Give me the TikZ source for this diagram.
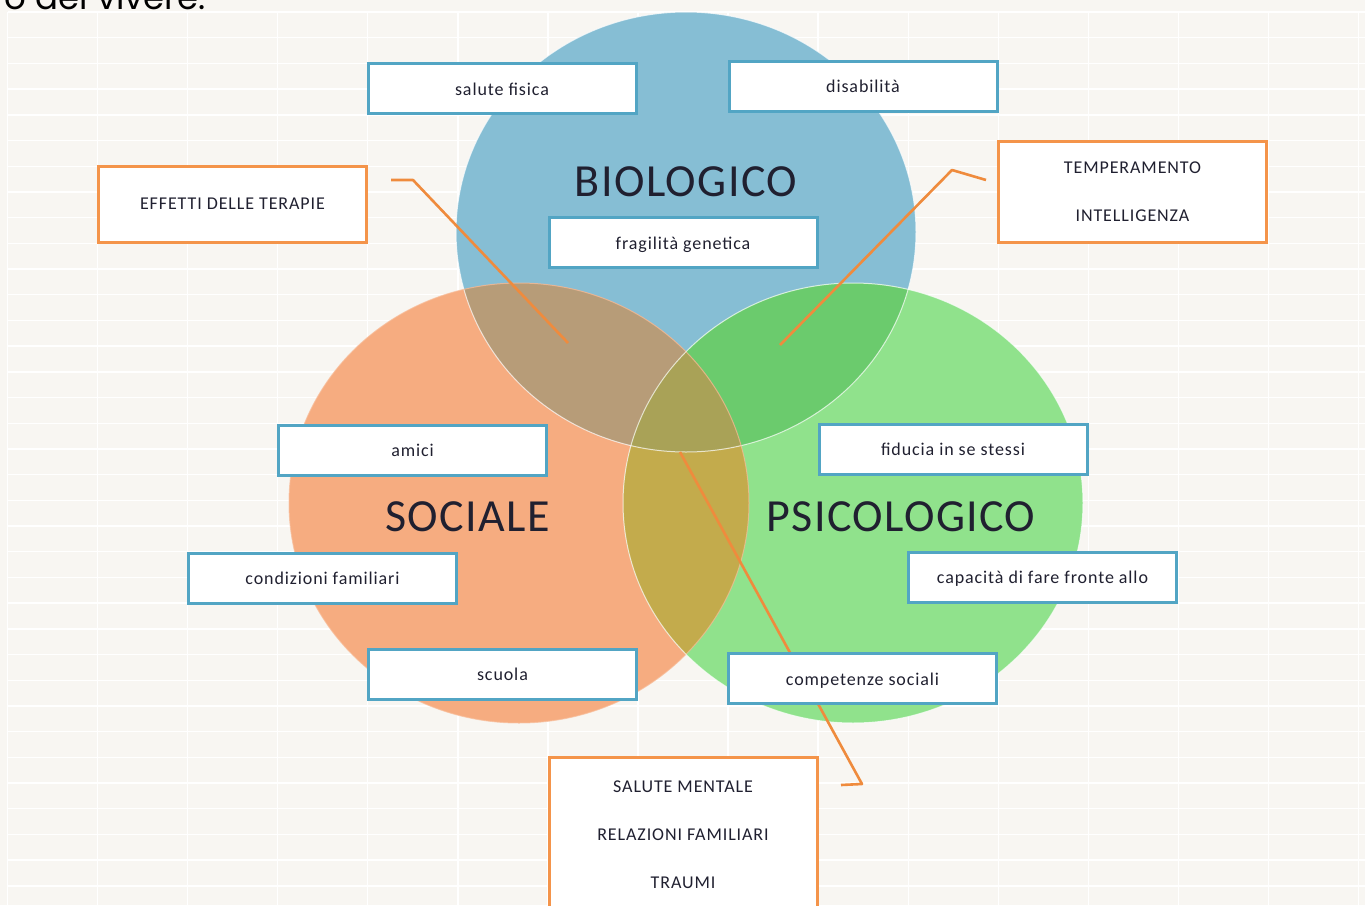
\documentclass[tikz,border=0pt]{standalone}
\usepackage{fontspec}
\setmainfont{Carlito}
\newfontfamily\labelfont[LetterSpace=5]{Carlito}
\newfontfamily\titlefont[LetterSpace=3]{Carlito}
\newfontfamily\headfont{Poppins}

\definecolor{paper}{HTML}{F8F6F2}
\definecolor{bioblue}{HTML}{86BED4}
\definecolor{socorange}{HTML}{F6AC80}
\definecolor{psigreen}{HTML}{90E28C}
\definecolor{bioSoc}{HTML}{B79C78}
\definecolor{bioPsi}{HTML}{6BCB6D}
\definecolor{socPsi}{HTML}{C3AB4C}
\definecolor{allThree}{HTML}{A9A257}
\definecolor{tealedge}{HTML}{52A5C4}
\definecolor{orangeedge}{HTML}{F4944A}
\definecolor{calloutline}{HTML}{EF8B3D}
\definecolor{ink}{HTML}{202030}

\tikzset{
  venn/.style={x radius=230pt, y radius=220pt},
  gridline/.style={white, line width=1.4pt},
  rim/.style={white, opacity=0.7, line width=1pt},
  bluebox/.style={draw=tealedge, line width=3pt, fill=white,
    minimum width=268pt, minimum height=50pt, inner sep=0pt,
    text height=13pt, text depth=0pt, text=ink,
    font=\labelfont\fontsize{18}{20}\selectfont},
  orangebox/.style={draw=orangeedge, line width=3pt, fill=white,
    minimum width=268pt, inner sep=0pt, text=ink, align=center,
    font=\labelfont\fontsize{18}{48}\selectfont},
  areatitle/.style={text=ink, inner sep=0pt,
    font=\titlefont\fontsize{46}{50}\selectfont},
  callout/.style={draw=calloutline, line width=2.6pt, line join=round}
}

\begin{document}
\begin{tikzpicture}[x=1pt,y=-1pt]
\useasboundingbox (0,0) rectangle (1365,905);
\fill[paper] (0,0) rectangle (1365,905);

% spreadsheet grid behind the diagram
\foreach \i in {0,...,15}
  \draw[gridline] ({7.5+90.07*\i},12) -- ({7.5+90.07*\i},905);
\foreach \j in {0,...,34}
  \draw[gridline] (8,{12+25.7*\j}) -- (1365,{12+25.7*\j});

% heading line running off the top edge
\node[anchor=base east, inner sep=0pt, text=black,
      font=\headfont\fontsize{34}{38}\selectfont] (heading) at (206,9) {o del vivere.};

% the three circles
\coordinate (cbio) at (686,232);
\coordinate (csoc) at (519,503);
\coordinate (cpsi) at (853,503);
\fill[bioblue]   (cbio) ellipse [venn];
\fill[socorange] (csoc) ellipse [venn];
\fill[psigreen]  (cpsi) ellipse [venn];

% overlaps
\begin{scope}
  \clip (cbio) ellipse [venn];
  \fill[bioSoc] (csoc) ellipse [venn];
  \fill[bioPsi] (cpsi) ellipse [venn];
\end{scope}
\begin{scope}
  \clip (csoc) ellipse [venn];
  \fill[socPsi] (cpsi) ellipse [venn];
\end{scope}
\begin{scope}
  \clip (cbio) ellipse [venn];
  \clip (csoc) ellipse [venn];
  \fill[allThree] (cpsi) ellipse [venn];
\end{scope}

% soft rims
\draw[rim] (cbio) ellipse [venn];
\draw[rim, draw=socorange!80!white] (csoc) ellipse [venn];
\draw[rim] (cpsi) ellipse [venn];

% callout leaders
\coordinate (l1a) at (391,180);
\coordinate (l1b) at (413,180);
\coordinate (l1c) at (568,343);
\coordinate (l2a) at (986,180);
\coordinate (l2b) at (952,170);
\coordinate (l2c) at (780,345);
\coordinate (l3a) at (841,785);
\coordinate (l3b) at (862,784);
\coordinate (l3c) at (680,452);
\draw[callout] (l1a) -- (l1b) -- (l1c);
\draw[callout] (l2a) -- (l2b) -- (l2c);
\draw[callout] (l3a) -- (l3b) -- (l3c);

% area titles
\node[areatitle] (tbio) at (686,181.5) {BIOLOGICO};
\node[areatitle] (tsoc) at (467.5,517) {SOCIALE};
\node[areatitle] (tpsi) at (901,517) {PSICOLOGICO};

% factor boxes
\node[bluebox] (salute)    at (502,88.5) {salute fisica};
\node[bluebox] (disab)     at (863,86)   {disabilità};
\node[bluebox] (fragil)    at (683,242.5) {fragilità genetica};
\node[bluebox] (amici)     at (412.5,450) {amici};
\node[bluebox] (condiz)    at (322.5,578) {condizioni familiari};
\node[bluebox] (scuola)    at (502.5,674) {scuola};
\node[bluebox] (fiducia)   at (953,449)  {fiducia in se stessi};
\node[bluebox] (capacita)  at (1042.5,577) {capacità di fare fronte allo};
\node[bluebox] (compet)    at (862.5,678.5) {competenze sociali};

% orange boxes
\node[orangebox, minimum height=76pt] (terapie) at (232.5,204) {EFFETTI DELLE TERAPIE};
\node[orangebox, minimum height=101pt] (tempera) at (1132.5,191.5) {TEMPERAMENTO\\INTELLIGENZA};
\node[orangebox, minimum height=156pt] (mentale) at (683,835) {SALUTE MENTALE\\RELAZIONI FAMILIARI\\TRAUMI};
\end{tikzpicture}
\end{document}
